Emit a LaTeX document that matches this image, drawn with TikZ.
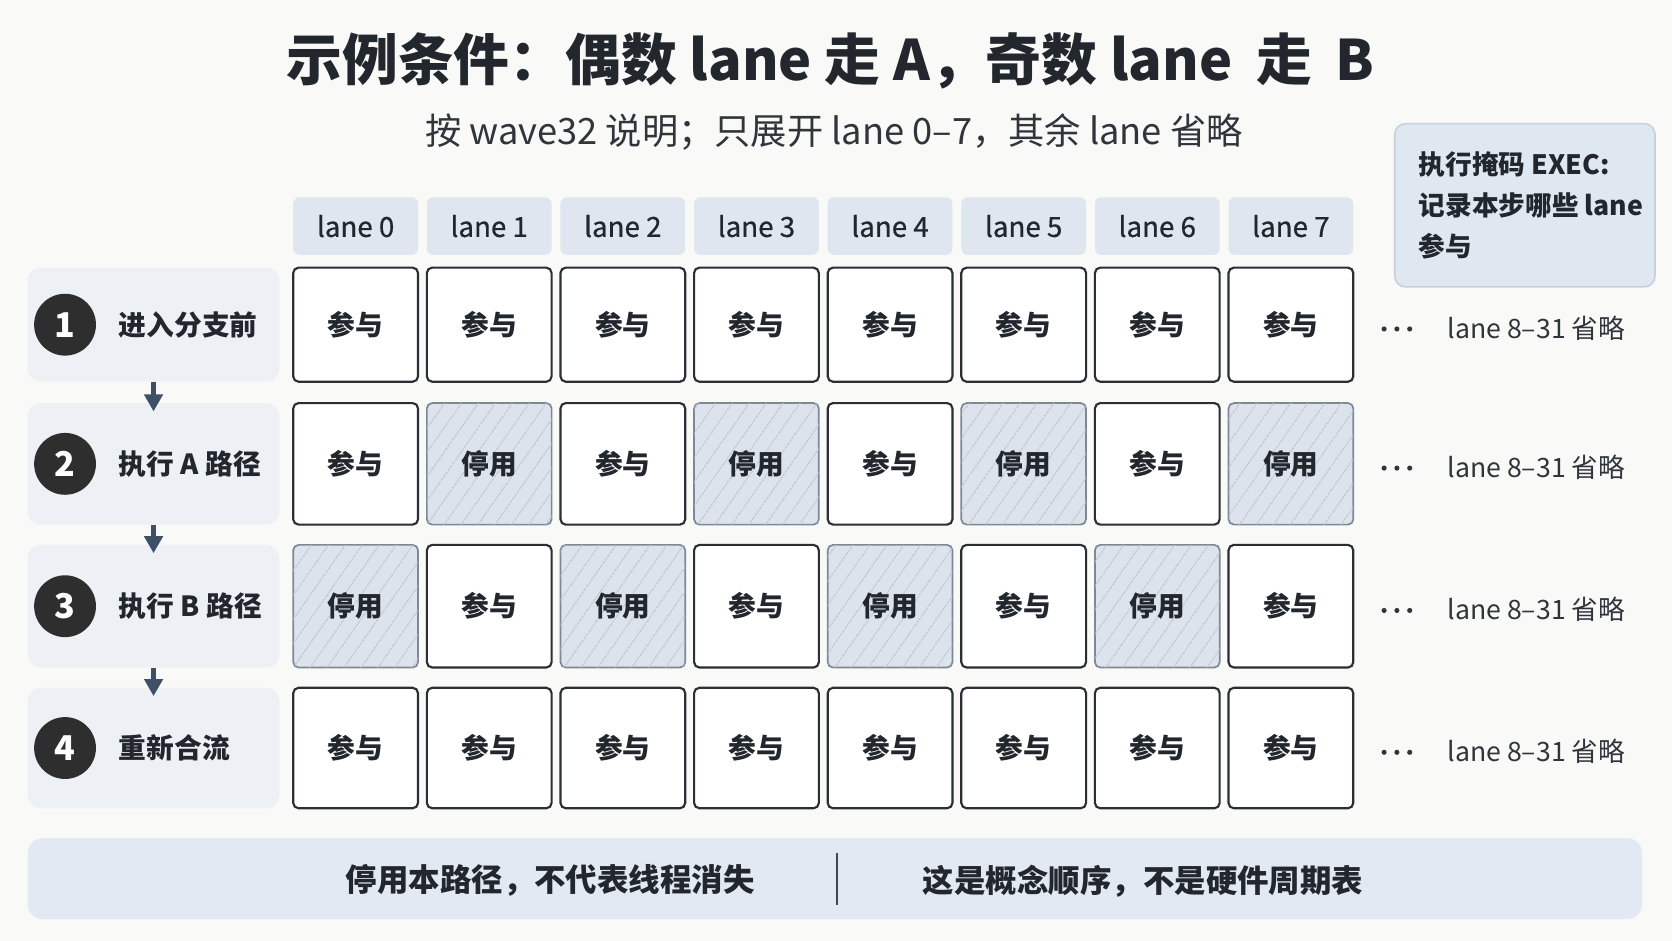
\documentclass[tikz,border=0pt]{standalone}
\usepackage{fontspec}
\setmainfont{Noto Sans CJK SC}
\newfontfamily\medfont{Noto Sans CJK SC}[FakeBold=0.6]
\usetikzlibrary{patterns.meta,arrows.meta}
\definecolor{bg}{HTML}{F9F9F7}
\definecolor{ink}{HTML}{22262D}
\definecolor{sub}{HTML}{30353C}
\definecolor{stepfill}{HTML}{EDF1F6}
\definecolor{hdrfill}{HTML}{DFE6EF}
\definecolor{disfill}{HTML}{DCE3EC}
\definecolor{dishatch}{HTML}{B6C0CC}
\definecolor{disborder}{HTML}{7D8897}
\definecolor{cellborder}{HTML}{2A2E35}
\definecolor{circ}{HTML}{2E2E2F}
\definecolor{arrowc}{HTML}{3E5068}
\definecolor{execfill}{HTML}{DFE7F1}
\definecolor{execborder}{HTML}{C6D1DD}
\definecolor{barfill}{HTML}{E2E9F2}
\definecolor{divc}{HTML}{3E4A5A}
\tikzset{
  hdr/.style={fill=hdrfill, rounded corners=6pt, minimum width=117pt, minimum height=54pt, inner sep=0pt, text=ink, font=\fontsize{26}{26}\medfont},
  cellbase/.style={rounded corners=5pt, minimum width=117pt, inner sep=0pt, text=ink, font=\fontsize{26}{26}\bfseries},
  oncell/.style={cellbase, draw=cellborder, line width=2pt, fill=white},
  offcell/.style={cellbase, draw=disborder, line width=1.6pt, fill=disfill,
     postaction={pattern={Lines[angle=55,distance=13pt,line width=0.9pt]}, pattern color=dishatch}},
  stepbox/.style={fill=stepfill, rounded corners=12pt, minimum width=236pt, inner sep=0pt},
  numcirc/.style={circle, fill=circ, minimum size=58pt, inner sep=0pt, text=white, font=\fontsize{32}{32}\bfseries},
  steplabel/.style={anchor=west, text=ink, font=\fontsize{26}{26}\bfseries},
  arr/.style={draw=arrowc, line width=5.5pt, -{Triangle[width=17pt,length=16pt]}},
  restlabel/.style={anchor=west, text=sub, font=\fontsize{25}{25}\selectfont},
}
\begin{document}
\begin{tikzpicture}[x=1pt,y=-1pt]
\useasboundingbox[fill=bg] (0,0) rectangle (1568,882);
% title
\node[text=ink, font=\fontsize{52.3}{52.3}\bfseries] (title) at (779,57) {示例条件：偶数 lane 走 A，奇数 lane\hspace{0.2em} 走\hspace{0.2em} B};
\node[text=sub, font=\fontsize{34}{34}\selectfont] (subtitle) at (782,124) {按 wave32 说明；只展开 lane 0–7，其余 lane 省略};
% exec box
\node[fill=execfill, draw=execborder, line width=1.5pt, rounded corners=10pt, minimum width=244pt, minimum height=153pt] (exec) at (1430,192.5) {};
\node[anchor=west, align=left, text=ink, font=\fontsize{25}{38.5}\bfseries] (exectext) at (1327,192.5) {执行掩码 EXEC:\\记录本步哪些 lane\\参与};
% headers
\foreach \i in {0,...,7} {
  \pgfmathsetmacro\cx{333.5+125.3*\i}
  \node[hdr] (h\i) at (\cx,212) {lane \i};
}
% rows
\foreach \rr/\cy/\hh/\lab in {1/304.5/107/进入分支前, 2/435/114/执行 A 路径, 3/568.5/115/执行 B 路径, 4/701.5/113/重新合流} {
  \node[stepbox, minimum height=\hh pt] (s\rr) at (144,\cy) {};
  \node[numcirc] (c\rr) at (61,\cy) {\rr};
  \node[steplabel] (l\rr) at (108,\cy) {\lab};
  \foreach \i in {0,...,7} {
    \pgfmathsetmacro\cx{333.5+125.3*\i}
    \ifnum\rr=2
      \ifodd\i \node[offcell, minimum height=\hh pt] (x\rr\i) at (\cx,\cy) {停用};
      \else \node[oncell, minimum height=\hh pt] (x\rr\i) at (\cx,\cy) {参与};\fi
    \else\ifnum\rr=3
      \ifodd\i \node[oncell, minimum height=\hh pt] (x\rr\i) at (\cx,\cy) {参与};
      \else \node[offcell, minimum height=\hh pt] (x\rr\i) at (\cx,\cy) {停用};\fi
    \else
      \node[oncell, minimum height=\hh pt] (x\rr\i) at (\cx,\cy) {参与};
    \fi\fi
  }
  \foreach \dx in {1298,1310,1322} { \fill[sub] (\dx,\cy+4) circle (2.4pt); }
  \node[restlabel] (rest\rr) at (1354,\cy+3) {lane 8–31 省略};
}
% arrows
\draw[arr] (s1.south) -- ([yshift=-8pt]s2.north);
\draw[arr] (s2.south) -- ([yshift=-8pt]s3.north);
\draw[arr] (s3.south) -- ([yshift=-8pt]s4.north);
% bottom bar
\node[fill=barfill, rounded corners=14pt, minimum width=1514pt, minimum height=76pt, inner sep=0pt] (bar) at (783,824) {};
\node[text=ink, font=\fontsize{29.5}{29.5}\bfseries] (note1) at (516,826) {停用本路径，不代表线程消失};
\node[text=ink, font=\fontsize{29.5}{29.5}\bfseries] (note2) at (1072,826) {这是概念顺序，不是硬件周期表};
\coordinate (dtop) at (785,800);
\coordinate (dbot) at (785,849);
\draw[divc, line width=1.6pt] (dtop) -- (dbot);
\end{tikzpicture}
\end{document}
